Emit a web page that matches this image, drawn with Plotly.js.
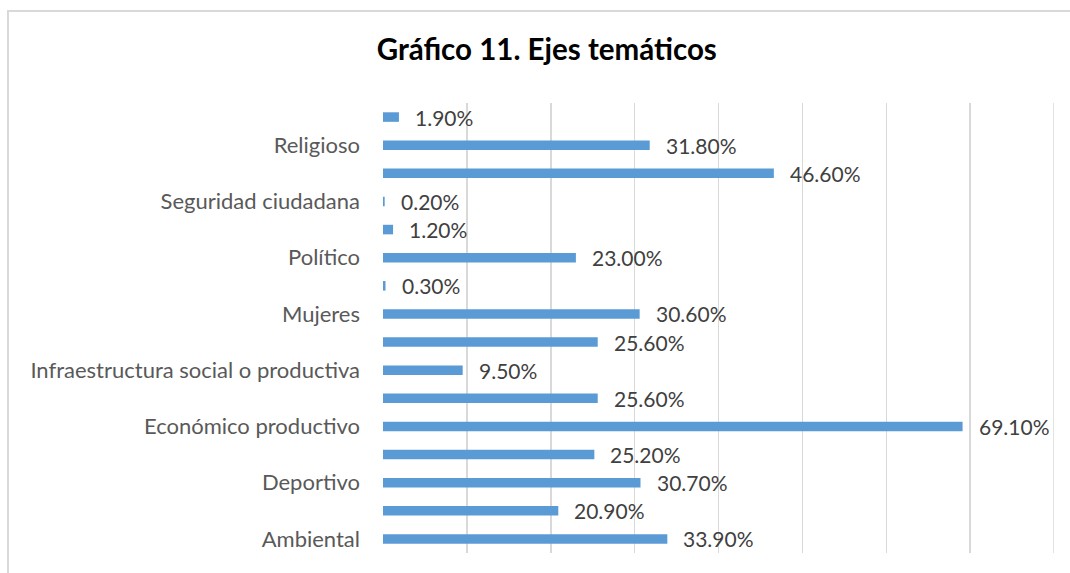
<!DOCTYPE html>
<html>
<head>
<meta charset="utf-8">
<script src="https://cdn.plot.ly/plotly-3.0.1.min.js"></script>
<style>
  html, body { margin: 0; padding: 0; background: #ffffff; overflow: hidden; }
  #chart { position: absolute; left: 0; top: 0; width: 1070px; height: 573px; }
  #frame { position: absolute; left: 7px; top: 10px; width: 2000px; height: 2000px;
           border-left: 2px solid #d9d9d9; border-top: 2px solid #d9d9d9; pointer-events: none; }
</style>
</head>
<body>
<div id="chart"></div>
<div id="frame"></div>
<script>
// Categories bottom -> top; empty strings are categories whose label is not shown in the source
const categories = [
  "Ambiental", "", "Deportivo", "", "Económico productivo", "",
  "Infraestructura social o productiva", "", "Mujeres", "", "Político", "",
  "Seguridad ciudadana", "", "Religioso", ""
];
const values = [33.9, 20.9, 30.7, 25.2, 69.1, 25.6, 9.5, 25.6, 30.6, 0.3, 23.0, 1.2, 0.2, 46.6, 31.8, 1.9];
const valueLabels = values.map(v => v.toFixed(2) + "%");
const xTicks = [0, 10, 20, 30, 40, 50, 60, 70, 80];
const xMax = 80;

const positions = categories.map((_, i) => i);

const trace = {
  type: "bar",
  orientation: "h",
  x: values,
  y: positions,
  marker: { color: "#5b9bd5" },
  hoverinfo: "x",
  showlegend: false
};

const annotations = values.map((v, i) => ({
  x: v, y: positions[i], xref: "x", yref: "y",
  text: valueLabels[i], showarrow: false,
  xanchor: "left", yanchor: "middle", xshift: 14, yshift: 0,
  font: { family: "Lato, sans-serif", size: 21, color: "#404040" }
}));

const layout = {
  width: 1070, height: 573,
  margin: { l: 383, r: 16, t: 103, b: 20, pad: 0 },
  paper_bgcolor: "#ffffff", plot_bgcolor: "#ffffff",
  bargap: 0.66,
  title: {
    text: "<b>Gráfico 11. Ejes temáticos</b>",
    x: 0.511, xref: "container", xanchor: "center",
    y: 0.913, yref: "container", yanchor: "middle",
    font: { family: "Lato, sans-serif", size: 29.5, color: "#000000" }
  },
  xaxis: {
    range: [0, xMax], tickvals: xTicks, showticklabels: false,
    showgrid: true, gridcolor: "#d9d9d9", gridwidth: 1.5,
    zeroline: false, showline: false, ticks: "", fixedrange: true
  },
  yaxis: {
    range: [-0.5, categories.length - 0.5],
    tickmode: "array", tickvals: positions, ticktext: categories,
    showgrid: false, zeroline: false, showline: false, ticks: "",
    ticklabelstandoff: 22, automargin: false,
    tickfont: { family: "Lato, sans-serif", size: 22, color: "#595959" },
    fixedrange: true
  },
  shapes: [{
    type: "line", layer: "below", xref: "x", yref: "paper",
    x0: xMax, x1: xMax, y0: 0, y1: 1,
    line: { color: "#d9d9d9", width: 1.5 }
  }],
  annotations: annotations
};

Plotly.newPlot("chart", [trace], layout, { displayModeBar: false, staticPlot: true });
</script>
</body>
</html>
